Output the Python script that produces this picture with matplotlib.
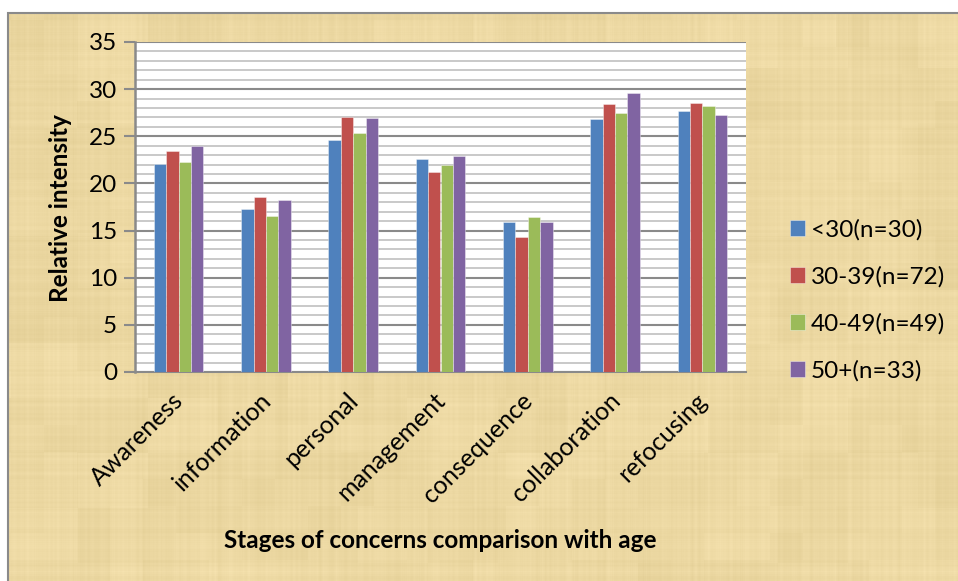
import numpy as np
import matplotlib
matplotlib.use("Agg")
import matplotlib.pyplot as plt
from matplotlib.patches import Rectangle
from matplotlib.transforms import ScaledTranslation

plt.rcParams['font.family'] = ['Lato', 'DejaVu Sans']

# ---- data -------------------------------------------------------------
stages = ["Awareness", "information", "personal", "management",
          "consequence", "collaboration", "refocusing"]
age_groups = ["<30(n=30)", "30-39(n=72)", "40-49(n=49)", "50+(n=33)"]
under_30 = [22.1, 17.3, 24.6, 22.6, 15.9, 26.8, 27.7]
age_30_39 = [23.4, 18.6, 27.0, 21.2, 14.3, 28.4, 28.5]
age_40_49 = [22.3, 16.5, 25.4, 22.0, 16.4, 27.5, 28.2]
age_50_plus = [24.0, 18.2, 26.9, 22.9, 15.9, 29.6, 27.3]
series = [under_30, age_30_39, age_40_49, age_50_plus]
colors = ["#4F81BD", "#C0504D", "#9BBB59", "#8064A2"]
y_ticks = [0, 5, 10, 15, 20, 25, 30, 35]

W, H = 958, 581
fig = plt.figure(figsize=(W / 100, H / 100), dpi=100)
fig.patch.set_facecolor("white")

# ---- parchment backdrop for the chart area -----------------------------
def parchment(w, h):
    xx, yy = np.meshgrid(np.arange(w), np.arange(h))
    def hash2(a, b):
        v = np.sin(a * 12.9898 + b * 78.233) * 43758.5453
        return v - np.floor(v)
    # soft patches
    p1 = hash2(np.floor(xx / 70.0), np.floor(yy / 55.0)) - 0.5
    p2 = hash2(np.floor((xx + 30) / 33.0) + 7, np.floor((yy + 20) / 27.0) + 3) - 0.5
    # fibre-like cross hatching
    fx = hash2(xx, 1.0) - 0.5
    fy = hash2(2.0, yy) - 0.5
    fx = np.convolve(fx[0], np.ones(3) / 3, mode="same")[None, :] * np.ones((h, 1))
    fy = np.convolve(fy[:, 0], np.ones(3) / 3, mode="same")[:, None] * np.ones((1, w))
    shade = 5 * p1 + 4 * p2 + 8 * fx + 8 * fy
    base = np.array([236.0, 216.0, 162.0])
    tint = np.array([1.0, 1.05, 1.35])
    img = base[None, None, :] + shade[:, :, None] * tint[None, None, :]
    return np.clip(img, 0, 255) / 255.0

bg_left, bg_top = 8, 13
bg_ax = fig.add_axes([bg_left / W, 0, (W - bg_left) / W, (H - bg_top) / H])
bg_ax.imshow(parchment(W - bg_left, H - bg_top), aspect="auto",
             interpolation="bilinear")
bg_ax.set_axis_off()
fig.add_artist(Rectangle((bg_left / W, -0.01), 1.0, (H - bg_top) / H + 0.01,
                         transform=fig.transFigure, fill=False,
                         edgecolor="#8a8a8a", linewidth=1.5, zorder=5))

# ---- bar chart ----------------------------------------------------------
ax = fig.add_axes([135 / W, (H - 372) / H, 611 / W, 330 / H])
ax.set_facecolor("white")

x = np.arange(len(stages))
bar_w = 0.142
for j, (vals, col, lab) in enumerate(zip(series, colors, age_groups)):
    ax.bar(x + (j - 1.5) * bar_w, vals, width=bar_w, color=col,
           edgecolor=(1, 1, 1, 0.45), linewidth=0.6, label=lab, zorder=3)

ax.set_xlim(-0.5, len(stages) - 0.5)
ax.set_ylim(0, 35)
ax.set_yticks(y_ticks)
ax.set_yticks(np.arange(0, 36, 1), minor=True)
ax.grid(axis="y", which="minor", color="#c0c0c0", linewidth=1.2, zorder=1)
ax.grid(axis="y", which="major", color="#8a8a8a", linewidth=1.5, zorder=2)
ax.tick_params(axis="y", which="major", length=8, width=1.5, color="#8a8a8a",
               labelsize=17.5, pad=5)
ax.tick_params(axis="y", which="minor", length=0)
ax.tick_params(axis="x", length=0, pad=12)
ax.set_xticks(x)
ax.set_xticklabels(stages, rotation=45, ha="right", va="top",
                   rotation_mode="anchor", fontsize=18)
shift = ScaledTranslation(-7 / 100, 0, fig.dpi_scale_trans)
for lbl in ax.get_xticklabels():
    lbl.set_transform(lbl.get_transform() + shift)
for side in ("top", "right"):
    ax.spines[side].set_visible(False)
ax.spines["left"].set_color("#8a8a8a")
ax.spines["left"].set_linewidth(1.8)
ax.spines["bottom"].set_color("#8a8a8a")
ax.spines["bottom"].set_linewidth(1.5)

fig.text(61 / W, 1 - 208 / H, "Relative intensity", rotation=90,
         ha="center", va="center", fontsize=17.5, fontweight="bold")
fig.text(440 / W, 1 - 540 / H, "Stages of concerns comparison with age",
         ha="center", va="center", fontsize=17.5, fontweight="bold")

ax.legend(loc="center left", bbox_to_anchor=(780 / W, 1 - 300 / H),
          bbox_transform=fig.transFigure, frameon=False, fontsize=17.5,
          handlelength=0.62, handleheight=0.62, handletextpad=0.25,
          labelspacing=1.05, borderaxespad=0)

fig.savefig("out.png", dpi=100)
